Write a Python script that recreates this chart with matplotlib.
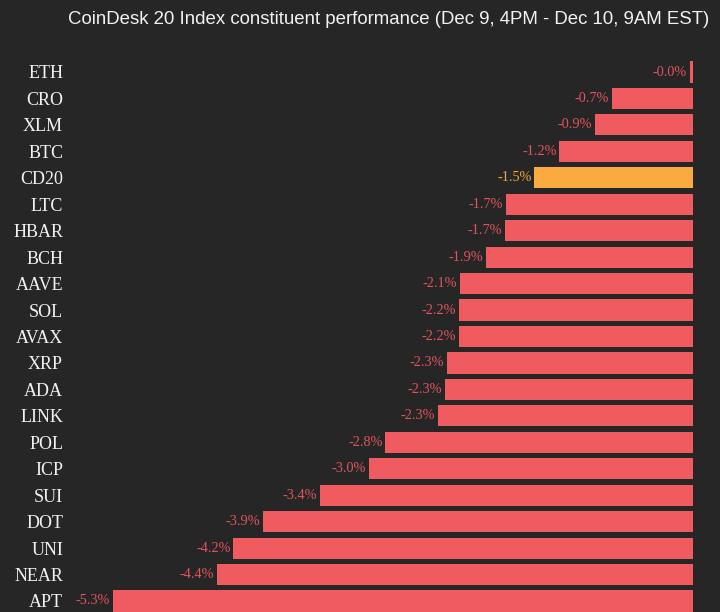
import matplotlib
matplotlib.use('Agg')
from matplotlib import pyplot as plt

# data (percent change)
symbols = ['ETH', 'CRO', 'XLM', 'BTC', 'CD20', 'LTC', 'HBAR', 'BCH', 'AAVE', 'SOL', 'AVAX',
           'XRP', 'ADA', 'LINK', 'POL', 'ICP', 'SUI', 'DOT', 'UNI', 'NEAR', 'APT']
changes = [-0.03, -0.74, -0.9, -1.22, -1.45, -1.71, -1.72, -1.89, -2.13, -2.14, -2.14,
           -2.25, -2.27, -2.33, -2.81, -2.96, -3.41, -3.93, -4.2, -4.35, -5.3]
value_labels = ['-0.0%', '-0.7%', '-0.9%', '-1.2%', '-1.5%', '-1.7%', '-1.7%', '-1.9%', '-2.1%',
                '-2.2%', '-2.2%', '-2.3%', '-2.3%', '-2.3%', '-2.8%', '-3.0%', '-3.4%', '-3.9%',
                '-4.2%', '-4.4%', '-5.3%']
highlight = 'CD20'

bg = '#262626'
bar_red = '#ef5b5f'
bar_orange = '#fbaa3f'
text_red = '#e2545d'
text_orange = '#f2a53a'

W, H = 720, 612
fig = plt.figure(figsize=(W / 100, H / 100), dpi=100, facecolor=bg)

# axes placement in pixels
left_px, right_px = 70, 693
row_h = 26.45
top_px = 72 - row_h / 2
bot_px = top_px + row_h * len(symbols)
ax = fig.add_axes([left_px / W, (H - bot_px) / H, (right_px - left_px) / W, (bot_px - top_px) / H])
ax.set_facecolor(bg)

px_per_pct = (693 - 113) / 5.3
ax.set_xlim(-(right_px - left_px) / px_per_pct, 0)
ax.set_ylim(len(symbols) - 0.5, -0.5)

ys = list(range(len(symbols)))
colors = [bar_orange if s == highlight else bar_red for s in symbols]
ax.barh(ys, changes, height=0.8, color=colors)

for y, v, lab, s in zip(ys, changes, value_labels, symbols):
    c = text_orange if s == highlight else text_red
    ax.annotate(lab, (v, y), xytext=(-2, 0), textcoords='offset points',
                ha='right', va='center', color=c, fontsize=10.3, family='Liberation Serif')

ax.set_yticks(ys)
ax.set_yticklabels(symbols, family='Liberation Serif', fontsize=13, color='#f2f2f2')
ax.tick_params(axis='y', length=0, pad=5)
ax.set_xticks([])
for sp in ax.spines.values():
    sp.set_visible(False)

fig.text(389 / W, 1 - 20 / H, 'CoinDesk 20 Index constituent performance (Dec 9, 4PM - Dec 10, 9AM EST)',
         ha='center', va='center', color='#f2f2f2', fontsize=13.4, family='Liberation Sans')

fig.savefig('out.png', dpi=100, facecolor=bg)
